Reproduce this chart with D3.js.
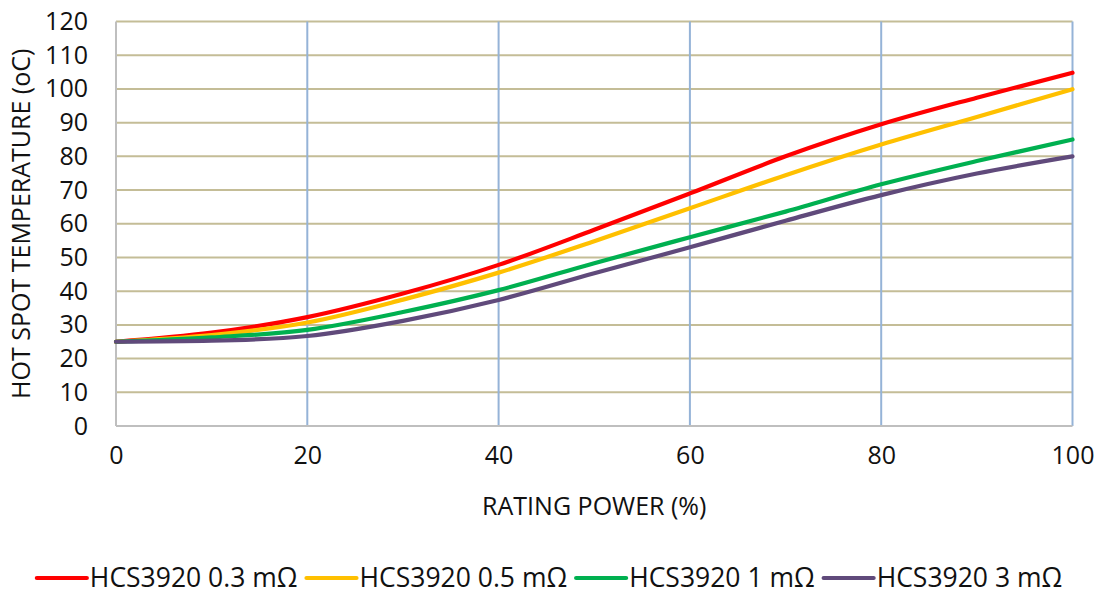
<!DOCTYPE html>
<html>
<head>
<meta charset="utf-8">
<script src="https://cdn.jsdelivr.net/npm/d3@7"></script>
<style>
  html, body { margin: 0; padding: 0; background: #fff; }
  svg { display: block; font-family: "Open Sans", "Noto Sans", sans-serif; }
</style>
</head>
<body>
<svg id="chart" width="1099" height="595"></svg>
<script>
// ---- data ----
const powerPct = [0, 10, 20, 30, 40, 50, 60, 70, 80, 90, 100];
const seriesNames = ["HCS3920 0.3 mΩ", "HCS3920 0.5 mΩ", "HCS3920 1 mΩ", "HCS3920 3 mΩ"];
const temp03 = [25, 27.7, 32.3, 39.3, 47.8, 58.2, 69.0, 80.0, 89.5, 97.4, 104.8];
const temp05 = [25, 27.0, 30.7, 37.5, 45.5, 54.8, 64.6, 74.4, 83.5, 91.7, 99.9];
const temp1  = [25, 26.3, 28.5, 33.8, 40.3, 48.3, 56.0, 63.6, 71.7, 78.6, 85.0];
const temp3  = [25, 25.3, 26.7, 31.2, 37.4, 45.3, 53.0, 60.9, 68.5, 74.9, 80.0];
const seriesColors = ["#FF0000", "#FFC000", "#00B050", "#604A7B"];
const xTicks = [0, 20, 40, 60, 80, 100];
const yTicks = [0, 10, 20, 30, 40, 50, 60, 70, 80, 90, 100, 110, 120];
const xTitle = "RATING POWER (%)";
const yTitle = "HOT SPOT TEMPERATURE (oC)";

const seriesValues = [temp03, temp05, temp1, temp3];

// ---- layout ----
const svg = d3.select("#chart");
const pLeft = 116, pRight = 1072.5, pTop = 21.5, pBottom = 426;
const x = d3.scaleLinear().domain([0, 100]).range([pLeft, pRight]);
const y = d3.scaleLinear().domain([0, 120]).range([pBottom, pTop]);
const textColor = "#111";

// horizontal gridlines
svg.append("g")
  .selectAll("line").data(yTicks.filter(d => d > 0)).join("line")
  .attr("x1", pLeft).attr("x2", pRight)
  .attr("y1", d => y(d)).attr("y2", d => y(d))
  .attr("stroke", "#C4BD97").attr("stroke-width", 2);

// vertical gridlines
svg.append("g")
  .selectAll("line").data(xTicks.filter(d => d > 0)).join("line")
  .attr("x1", d => x(d)).attr("x2", d => x(d))
  .attr("y1", pTop).attr("y2", pBottom)
  .attr("stroke", "#95B3D7").attr("stroke-width", 2);

// axes lines
svg.append("line").attr("x1", pLeft).attr("x2", pLeft).attr("y1", pTop).attr("y2", pBottom)
  .attr("stroke", "#BFBFBF").attr("stroke-width", 2);
svg.append("line").attr("x1", pLeft).attr("x2", pRight).attr("y1", pBottom).attr("y2", pBottom)
  .attr("stroke", "#BFBFBF").attr("stroke-width", 2);

// y tick labels
const yAxis = d3.axisLeft(y).tickValues(yTicks).tickSize(0).tickPadding(28);
const gy = svg.append("g").attr("transform", `translate(${pLeft},0)`).call(yAxis);
gy.select(".domain").remove();
gy.selectAll("text").attr("font-size", 25).attr("fill", textColor)
  .attr("font-family", "'Open Sans', sans-serif");

// x tick labels
const xAxis = d3.axisBottom(x).tickValues(xTicks).tickSize(0).tickPadding(20);
const gx = svg.append("g").attr("transform", `translate(0,${pBottom})`).call(xAxis);
gx.select(".domain").remove();
gx.selectAll("text").attr("font-size", 25).attr("fill", textColor)
  .attr("font-family", "'Open Sans', sans-serif");

// axis titles
svg.append("text").attr("x", (pLeft + pRight) / 2).attr("y", 515)
  .attr("text-anchor", "middle").attr("font-size", 25).attr("fill", textColor)
  .text(xTitle);
svg.append("text")
  .attr("transform", `translate(30,${(pTop + pBottom) / 2}) rotate(-90)`)
  .attr("text-anchor", "middle").attr("font-size", 25).attr("fill", textColor)
  .text(yTitle);

// lines
const line = d3.line()
  .x((d, i) => x(powerPct[i]))
  .y(d => y(d))
  .curve(d3.curveMonotoneX);

svg.append("g")
  .selectAll("path").data(seriesValues).join("path")
  .attr("d", d => line(d))
  .attr("fill", "none")
  .attr("stroke", (d, i) => seriesColors[i])
  .attr("stroke-width", 4.2)
  .attr("stroke-linecap", "round")
  .attr("stroke-linejoin", "round");

// legend
const legend = svg.append("g");
const legY = 578;
let cx = 0;
seriesNames.forEach((name, i) => {
  const g = legend.append("g");
  g.append("line").attr("x1", cx).attr("x2", cx + 50).attr("y1", legY).attr("y2", legY)
    .attr("stroke", seriesColors[i]).attr("stroke-width", 4.2).attr("stroke-linecap", "round");
  const t = g.append("text").attr("x", cx + 53).attr("y", legY).attr("dy", "0.35em")
    .attr("font-size", 26.5).attr("fill", textColor).text(name);
  const w = t.node().getComputedTextLength();
  cx += 53 + w + 9;
});
const totalW = cx - 9;
legend.attr("transform", `translate(${(1099 - totalW) / 2},0)`);
</script>
</body>
</html>
